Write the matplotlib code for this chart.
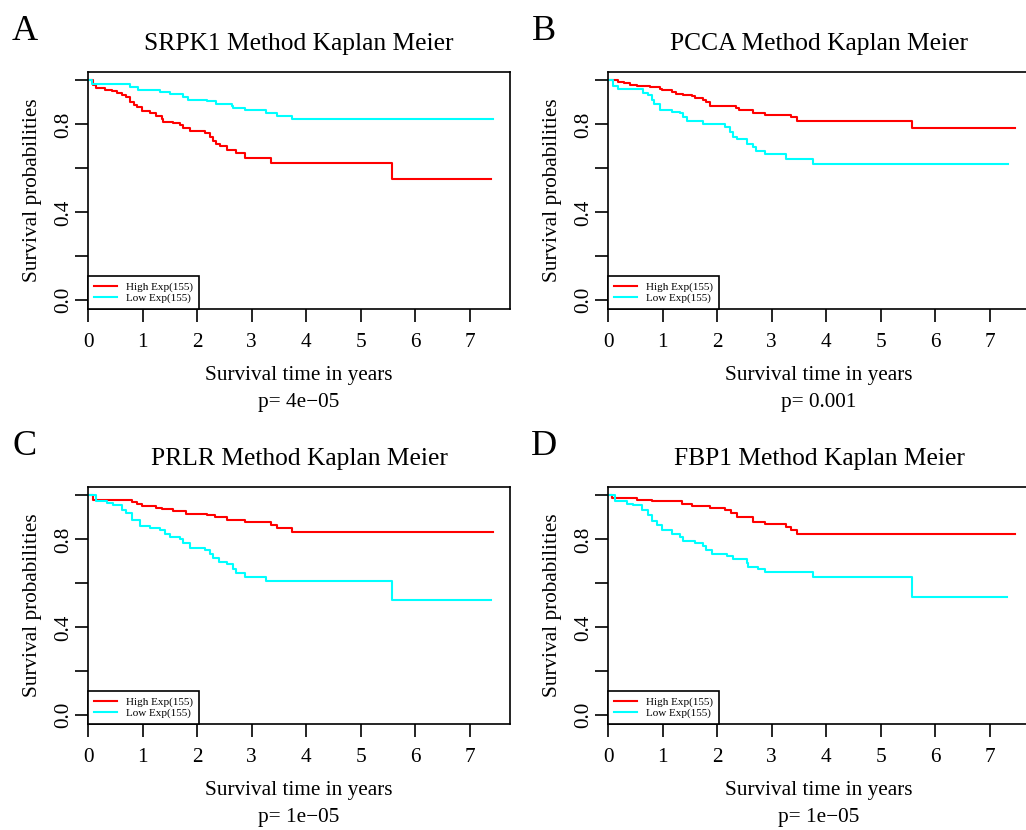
"""Four Kaplan-Meier panels (A-D), high vs low expression groups."""

import matplotlib
matplotlib.use("Agg")
import matplotlib.pyplot as plt

plt.rcParams["font.family"] = ["Liberation Serif", "DejaVu Serif"]

# --- Data (step times in years, survival after step) ---
genes = ["SRPK1", "PCCA", "PRLR", "FBP1"]
letters = ["A", "B", "C", "D"]
p_values = ["p= 4e\u221205", "p= 0.001", "p= 1e\u221205", "p= 1e\u221205"]
group_labels = ["High Exp(155)", "Low Exp(155)"]

a_high_t = [0.09, 0.15, 0.31, 0.43, 0.52, 0.61, 0.70, 0.76, 0.83, 0.89, 0.98,
            1.13, 1.25, 1.35, 1.38, 1.56, 1.68, 1.74, 1.87, 2.14, 2.23, 2.28,
            2.35, 2.42, 2.54, 2.72, 2.87, 3.36, 5.58]
a_high_s = [0.980, 0.967, 0.958, 0.952, 0.943, 0.932, 0.925, 0.902, 0.890,
            0.880, 0.862, 0.850, 0.838, 0.823, 0.812, 0.805, 0.797, 0.786,
            0.771, 0.759, 0.744, 0.724, 0.711, 0.702, 0.684, 0.669, 0.647,
            0.623, 0.553]
a_high_end = 7.40
a_low_t = [0.06, 0.76, 0.92, 1.31, 1.50, 1.74, 1.83, 2.17, 2.35, 2.63, 2.66,
           2.87, 3.27, 3.46, 3.74]
a_low_s = [0.985, 0.970, 0.955, 0.946, 0.937, 0.925, 0.913, 0.905, 0.895,
           0.883, 0.875, 0.865, 0.850, 0.839, 0.823]
a_low_end = 7.43

b_high_t = [0.18, 0.28, 0.40, 0.52, 0.76, 0.95, 0.98, 1.16, 1.25, 1.38, 1.53,
            1.59, 1.74, 1.80, 1.87, 2.35, 2.39, 2.66, 2.88, 3.36, 3.46, 5.58]
b_high_s = [0.995, 0.988, 0.980, 0.974, 0.970, 0.962, 0.955, 0.947, 0.940,
            0.935, 0.928, 0.920, 0.913, 0.902, 0.884, 0.877, 0.865, 0.854,
            0.845, 0.832, 0.817, 0.782]
b_high_end = 7.46
b_low_t = [0.09, 0.18, 0.64, 0.73, 0.80, 0.83, 0.95, 1.16, 1.32, 1.38, 1.44,
           1.74, 2.14, 2.23, 2.29, 2.36, 2.54, 2.66, 2.72, 2.88, 3.27, 3.76]
b_low_s = [0.977, 0.959, 0.943, 0.932, 0.910, 0.892, 0.865, 0.857, 0.850,
           0.832, 0.817, 0.802, 0.789, 0.767, 0.744, 0.734, 0.711, 0.696,
           0.680, 0.665, 0.642, 0.618]
b_low_end = 7.34

c_high_t = [0.09, 0.80, 0.89, 0.98, 1.25, 1.35, 1.56, 1.80, 2.17, 2.32, 2.54,
            2.88, 3.36, 3.46, 3.74]
c_high_s = [0.980, 0.970, 0.961, 0.953, 0.945, 0.938, 0.930, 0.917, 0.910,
            0.901, 0.890, 0.878, 0.865, 0.850, 0.833]
c_high_end = 7.43
c_low_t = [0.15, 0.34, 0.46, 0.61, 0.70, 0.80, 0.95, 1.13, 1.32, 1.41, 1.50,
           1.68, 1.74, 1.87, 2.14, 2.23, 2.29, 2.39, 2.54, 2.66, 2.72, 2.88,
           3.27, 5.58]
c_low_s = [0.973, 0.965, 0.958, 0.935, 0.920, 0.890, 0.863, 0.853, 0.841,
           0.823, 0.811, 0.800, 0.785, 0.762, 0.752, 0.732, 0.717, 0.699,
           0.687, 0.665, 0.645, 0.630, 0.612, 0.526]
c_low_end = 7.40

d_high_t = [0.06, 0.52, 0.80, 1.35, 1.53, 1.87, 2.14, 2.26, 2.36, 2.66, 2.88,
            3.27, 3.36, 3.46]
d_high_s = [0.988, 0.980, 0.973, 0.961, 0.950, 0.943, 0.935, 0.920, 0.900,
            0.880, 0.868, 0.856, 0.845, 0.827]
d_high_end = 7.46
d_low_t = [0.12, 0.34, 0.46, 0.61, 0.73, 0.80, 0.89, 0.98, 1.16, 1.32, 1.38,
           1.59, 1.74, 1.80, 1.90, 2.17, 2.29, 2.54, 2.57, 2.75, 2.88, 3.76,
           5.58]
d_low_s = [0.973, 0.961, 0.955, 0.935, 0.913, 0.883, 0.865, 0.841, 0.827,
           0.811, 0.793, 0.785, 0.770, 0.750, 0.735, 0.725, 0.710, 0.695,
           0.676, 0.665, 0.650, 0.627, 0.537]
d_low_end = 7.32

panels = [
    ((a_high_t, a_high_s, a_high_end), (a_low_t, a_low_s, a_low_end)),
    ((b_high_t, b_high_s, b_high_end), (b_low_t, b_low_s, b_low_end)),
    ((c_high_t, c_high_s, c_high_end), (c_low_t, c_low_s, c_low_end)),
    ((d_high_t, d_high_s, d_high_end), (d_low_t, d_low_s, d_low_end)),
]

# --- Layout (pixels of a 1026x830 canvas) ---
W, H = 1026, 830
AX_W, AX_H = 421.7, 237.3
LEFTS = [88.3, 608.3, 88.3, 608.3]
BOTTOMS = [309, 309, 724, 724]  # pixel y of axes bottom edge
COLORS = ["#FF0000", "#00FFFF"]
BASE = 15.3

fig = plt.figure(figsize=(W / 100, H / 100), dpi=100)

for i, (gene, letter, pv, curves) in enumerate(zip(genes, letters, p_values, panels)):
    ax = fig.add_axes([LEFTS[i] / W, (H - BOTTOMS[i]) / H, AX_W / W, AX_H / H])

    for (t, s, end), color, lab in zip(curves, COLORS, group_labels):
        xs = [0.0] + t + [end]
        ys = [1.0] + s + [s[-1]]
        ax.plot(xs, ys, drawstyle="steps-post", color=color, lw=1.5, label=lab)

    ax.set_xlim(0, 7.74)
    ax.set_ylim(-0.04, 1.04)
    ax.set_xticks(range(8))
    ax.set_yticks([0.0, 0.2, 0.4, 0.6, 0.8, 1.0])
    ax.set_yticklabels(["0.0", "", "0.4", "", "0.8", ""], rotation=90, va="center")
    ax.tick_params(axis="both", direction="out", length=9.4, width=1.2,
                   labelsize=BASE, color="black")
    ax.tick_params(axis="x", pad=8)
    ax.tick_params(axis="y", pad=1.5)
    for sp in ax.spines.values():
        sp.set_linewidth(1.2)

    # title, panel letter, axis labels, p-value
    ax.annotate(f"{gene} Method Kaplan Meier", xy=(0.5, 1), xycoords="axes fraction",
                xytext=(0, 15.6), textcoords="offset points",
                ha="center", va="baseline", fontsize=BASE * 1.2)
    ax.annotate(letter, xy=(0, 1), xycoords="axes fraction",
                xytext=(-46, 22.8), textcoords="offset points",
                ha="center", va="baseline", fontsize=26)
    ax.annotate("Survival time in years", xy=(0.5, 0), xycoords="axes fraction",
                xytext=(0, -48), textcoords="offset points",
                ha="center", va="center", fontsize=BASE)
    ax.annotate(pv, xy=(0.5, 0), xycoords="axes fraction",
                xytext=(0, -67), textcoords="offset points",
                ha="center", va="center", fontsize=BASE)
    ax.annotate("Survival probabilities", xy=(0, 0.5), xycoords="axes fraction",
                xytext=(-40, 0), textcoords="offset points",
                ha="center", va="center", rotation=90, fontsize=BASE)

    leg = ax.legend(loc="lower left", borderaxespad=0, fontsize=8,
                    fancybox=False, edgecolor="black", framealpha=1,
                    handlelength=2.0, handletextpad=0.85, borderpad=0.55,
                    labelspacing=0.1)
    leg.get_frame().set_linewidth(1.2)

fig.savefig("out.png", dpi=100, facecolor="white")
